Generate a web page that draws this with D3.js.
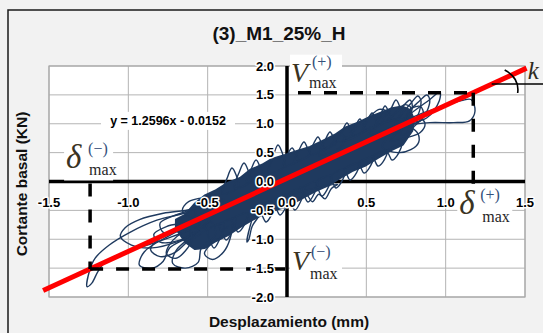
<!DOCTYPE html>
<html><head><meta charset="utf-8">
<script src="https://cdn.jsdelivr.net/npm/d3@7"></script>
<style>
body{margin:0;background:#f2f2f2;}
svg{display:block;}
</style></head><body>
<svg id="c" width="543" height="333"></svg>
<script>
// ---------- data ----------
const title = "(3)_M1_25%_H";
const xLabel = "Desplazamiento (mm)";
const yLabel = "Cortante basal (KN)";
const equation = "y = 1.2596x - 0.0152";
const xTicks = [-1.5, -1.0, -0.5, 0.0, 0.5, 1.0, 1.5];
const yTicks = [-2.0, -1.5, -1.0, -0.5, 0.0, 0.5, 1.0, 1.5, 2.0];
const trendX = [-1.537, 1.51];
const trendY = [-1.889, 1.963];
const deltaMax = [-1.241, 1.174];   // δmax(-), δmax(+)
const vMax = [-1.515, 1.538];       // Vmax(-), Vmax(+)
const kMarkY = 1.688;
const kMarkX = [1.29, 1.62];

// dense core of the hysteresis cloud (outline)
const coreX = [-0.70,-0.643,-0.580,-0.517,-0.454,-0.372,-0.296,-0.233,-0.158,-0.095,-0.013,0.063,0.145,0.221,0.302,0.365,0.447,0.523,0.599,0.662,0.725,0.775,
               0.80,0.79,0.731,0.649,0.573,0.491,0.410,0.334,0.258,0.176,0.095,0.019,-0.057,-0.139,-0.221,-0.296,-0.372,-0.447,-0.517,-0.580,-0.64,-0.70];
const coreY = [-0.66,-0.58,-0.38,-0.24,-0.16,-0.02,0.06,0.20,0.29,0.39,0.46,0.53,0.60,0.70,0.81,0.93,1.02,1.12,1.20,1.27,1.30,1.24,
               1.08,0.88,0.64,0.53,0.41,0.27,0.18,0.06,-0.07,-0.17,-0.29,-0.41,-0.48,-0.55,-0.67,-0.79,-0.93,-1.03,-1.15,-1.17,-1.05,-0.82];

// hysteresis loops outside the dense core
const loopsLowerLeft = [
  [[-0.45,-0.35],[-0.65,-0.55],[-0.82,-0.67],[-0.99,-0.88],[-1.12,-1.10],[-1.21,-1.33],[-1.245,-1.55],[-1.26,-1.82],[-1.23,-1.76],[-1.19,-1.55],[-1.14,-1.38],[-1.02,-1.22],[-0.88,-1.10],[-0.72,-0.95],[-0.55,-0.75]],
  [[-0.40,-0.30],[-0.60,-0.48],[-0.78,-0.55],[-0.93,-0.66],[-1.02,-0.80],[-1.05,-0.95],[-0.98,-1.10],[-0.85,-1.15],[-0.70,-1.05],[-0.55,-0.85]],
  [[-0.50,-0.60],[-0.66,-0.80],[-0.80,-0.98],[-0.86,-1.18],[-0.80,-1.30],[-0.70,-1.22],[-0.63,-1.05],[-0.52,-0.85]],
  [[-0.48,-0.70],[-0.60,-0.95],[-0.70,-1.20],[-0.72,-1.42],[-0.64,-1.50],[-0.56,-1.40],[-0.54,-1.15],[-0.45,-0.92]],
  [[-0.55,-0.70],[-0.75,-0.95],[-0.90,-1.22],[-0.93,-1.45],[-0.85,-1.50],[-0.78,-1.38],[-0.74,-1.15],[-0.62,-0.95]],
  [[-0.45,-0.55],[-0.62,-0.70],[-0.76,-0.78],[-0.84,-0.92],[-0.80,-1.05],[-0.68,-1.02],[-0.58,-0.88]],
  [[-0.35,-0.75],[-0.45,-1.00],[-0.52,-1.25],[-0.47,-1.35],[-0.40,-1.22],[-0.36,-1.00]],
  [[-0.58,-0.50],[-0.70,-0.58],[-0.80,-0.72],[-0.78,-0.88],[-0.68,-0.85],[-0.60,-0.70]],
  [[-0.62,-0.85],[-0.72,-1.02],[-0.76,-1.25],[-0.70,-1.33],[-0.64,-1.20],[-0.60,-1.00]],
  [[-0.50,-0.30],[-0.62,-0.35],[-0.66,-0.50],[-0.60,-0.62],[-0.52,-0.50]]
];
const loopsUpper = [
  [[-0.407,-0.21],[-0.377,0.06],[-0.347,0.234],[-0.322,0.12],[-0.307,-0.09]],
  [[-0.331,-0.117],[-0.30,0.17],[-0.271,0.320],[-0.246,0.20],[-0.231,0.006]],
  [[-0.255,-0.024],[-0.225,0.22],[-0.195,0.372],[-0.17,0.25],[-0.155,0.099]],
  [[-0.117,0.146],[-0.087,0.44],[-0.057,0.632],[-0.032,0.51],[-0.017,0.269]],
  [[-0.028,0.256],[0.0,0.45],[0.032,0.580],[0.057,0.46],[0.072,0.378]],
  [[0.047,0.348],[0.077,0.55],[0.107,0.684],[0.132,0.56],[0.147,0.471]],
  [[0.135,0.456],[0.165,0.64],[0.195,0.771],[0.22,0.65],[0.235,0.579]],
  [[0.211,0.55],[0.241,0.72],[0.271,0.857],[0.296,0.74],[0.311,0.672]],
  [[0.318,0.681],[0.348,0.87],[0.378,1.013],[0.403,0.89],[0.418,0.804]],
  [[0.40,0.782],[0.43,0.95],[0.460,1.082],[0.485,0.96],[0.50,0.905]],
  [[0.476,0.876],[0.506,1.05],[0.536,1.186],[0.561,1.07],[0.576,1.0]],
  [[0.558,0.976],[0.59,1.16],[0.618,1.307],[0.643,1.19],[0.658,1.099]],
  [[0.60,1.03],[0.655,1.26],[0.687,1.411],[0.71,1.30],[0.72,1.15]],
  [[0.66,1.10],[0.73,1.30],[0.775,1.411],[0.79,1.30],[0.76,1.10]],
  [[0.68,1.00],[0.78,1.35],[0.825,1.481],[0.845,1.38],[0.80,1.05]],
  [[0.70,1.00],[0.83,1.38],[0.882,1.498],[0.90,1.40],[0.84,1.05]],
  [[0.72,1.02],[0.90,1.42],[0.964,1.550],[0.96,1.40],[0.88,1.10]],
  [[0.60,0.85],[0.75,0.97],[0.90,1.02],[1.05,1.02],[1.15,1.05],[1.185,1.22],[1.16,1.42],[1.10,1.40],[0.98,1.30],[0.85,1.18],[0.70,1.00]],
  [[0.60,0.60],[0.70,0.50],[0.78,0.55],[0.83,0.68],[0.82,0.85],[0.76,0.95],[0.68,0.85]],
  [[0.65,0.70],[0.74,0.75],[0.84,0.85],[0.87,1.00],[0.84,1.10],[0.77,1.00]],
  [[0.35,0.70],[0.45,0.95],[0.52,1.12],[0.58,1.25],[0.62,1.22],[0.57,1.05],[0.48,0.85]],
  [[0.50,0.80],[0.60,1.00],[0.70,1.22],[0.74,1.33],[0.78,1.28],[0.74,1.10],[0.65,0.92]],
  [[0.20,0.45],[0.30,0.70],[0.33,0.82],[0.36,0.78],[0.34,0.60]],
  [[0.72,0.80],[0.80,0.95],[0.86,1.15],[0.84,1.30],[0.78,1.25],[0.74,1.05]]
];
const loopsLower = [
  [[0.622,0.505],[0.637,0.49],[0.662,0.372],[0.692,0.44],[0.722,0.65]],
  [[0.533,0.42],[0.548,0.39],[0.573,0.268],[0.603,0.33],[0.633,0.54]],
  [[0.445,0.31],[0.46,0.27],[0.485,0.147],[0.515,0.22],[0.545,0.43]],
  [[0.357,0.2],[0.372,0.15],[0.397,0.026],[0.427,0.10],[0.457,0.32]],
  [[0.269,0.09],[0.284,0.01],[0.309,-0.113],[0.339,-0.03],[0.369,0.21]],
  [[0.181,-0.02],[0.196,-0.13],[0.221,-0.251],[0.251,-0.15],[0.281,0.10]],
  [[0.092,-0.13],[0.107,-0.235],[0.132,-0.355],[0.162,-0.26],[0.192,0.0]],
  [[0.01,-0.23],[0.025,-0.37],[0.050,-0.494],[0.08,-0.38],[0.11,-0.10]],
  [[-0.084,-0.34],[-0.069,-0.46],[-0.044,-0.580],[-0.014,-0.48],[0.016,-0.22]],
  [[-0.172,-0.45],[-0.157,-0.58],[-0.132,-0.701],[-0.102,-0.60],[-0.072,-0.33]],
  [[-0.20,-0.55],[-0.235,-0.80],[-0.252,-1.048],[-0.24,-1.00],[-0.22,-0.78],[-0.17,-0.55]],
  [[-0.349,-0.67],[-0.334,-0.75],[-0.309,-0.874],[-0.279,-0.80],[-0.249,-0.55]],
  [[-0.424,-0.76],[-0.409,-0.89],[-0.384,-1.013],[-0.354,-0.91],[-0.324,-0.64]],
  [[-0.50,-0.85],[-0.485,-1.03],[-0.460,-1.152],[-0.43,-1.03],[-0.40,-0.73]],
  [[0.02,-0.25],[0.08,-0.32],[0.12,-0.22],[0.16,-0.35],[0.20,-0.22],[0.24,-0.30],[0.28,-0.12],[0.32,-0.05]]
];

// ---------- drawing ----------
const svg = d3.select("#c");
const W = 543, H = 333;
const plot = {l: 49, r: 525, t: 66, b: 297};
const x = d3.scaleLinear().domain([-1.5, 1.5]).range([plot.l, plot.r]);
const y = d3.scaleLinear().domain([-2, 2]).range([plot.b, plot.t]);
const blue = "#1f3a5f";
const sans = "'Liberation Sans', Arial, sans-serif";
const serif = "'Liberation Serif', 'Times New Roman', serif";

svg.append("rect").attr("width", W).attr("height", H).attr("fill", "#f2f2f2");
svg.append("rect").attr("x", 8).attr("y", 10).attr("width", 700).attr("height", 500)
  .attr("fill", "none").attr("stroke", "#1a1a1a").attr("stroke-width", 1.5);

svg.append("rect").attr("x", plot.l).attr("y", plot.t).attr("width", plot.r - plot.l).attr("height", plot.b - plot.t)
  .attr("fill", "#ffffff");

// gridlines
const grid = svg.append("g").attr("stroke", "#b4b4b4").attr("stroke-width", 1);
grid.selectAll("line.v").data(xTicks).join("line").attr("class","v")
  .attr("x1", d => x(d)).attr("x2", d => x(d)).attr("y1", plot.t).attr("y2", plot.b);
grid.selectAll("line.h").data(yTicks).join("line").attr("class","h")
  .attr("x1", plot.l).attr("x2", plot.r).attr("y1", d => y(d)).attr("y2", d => y(d));
svg.append("rect").attr("x", plot.l).attr("y", plot.t).attr("width", plot.r - plot.l).attr("height", plot.b - plot.t)
  .attr("fill", "none").attr("stroke", "#a8a8a8").attr("stroke-width", 1.2);

// axes lines (thick)
svg.append("line").attr("x1", plot.l).attr("x2", plot.r).attr("y1", y(0)).attr("y2", y(0))
  .attr("stroke", "#000").attr("stroke-width", 3.5);
svg.append("line").attr("x1", x(0)).attr("x2", x(0)).attr("y1", plot.t).attr("y2", plot.b)
  .attr("stroke", "#000").attr("stroke-width", 3.5);

// core
const corePts = coreX.map((d, i) => [x(d), y(coreY[i])]);
svg.append("path").attr("d", d3.line().curve(d3.curveLinearClosed)(corePts))
  .attr("fill", blue).attr("stroke", blue).attr("stroke-width", 2).attr("stroke-linejoin", "round");

// loops
const loopLine = d3.line().x(d => x(d[0])).y(d => y(d[1])).curve(d3.curveCatmullRomClosed.alpha(0.5));
svg.append("g").selectAll("path").data([...loopsLowerLeft, ...loopsUpper, ...loopsLower]).join("path")
  .attr("d", d => loopLine(d)).attr("fill", "none").attr("stroke", blue).attr("stroke-width", 1.4);

// red trend line
svg.append("line").attr("x1", x(trendX[0])).attr("y1", y(trendY[0])).attr("x2", x(trendX[1])).attr("y2", y(trendY[1]))
  .attr("stroke", "#ff0000").attr("stroke-width", 5);

// dashed lines
const dash = svg.append("g").attr("stroke", "#000").attr("stroke-width", 3.5).attr("stroke-dasharray", "13,13");
dash.append("line").attr("x1", x(0) + 11).attr("x2", x(deltaMax[1])).attr("y1", y(vMax[1])).attr("y2", y(vMax[1]));
dash.append("line").attr("x1", x(deltaMax[1])).attr("x2", x(deltaMax[1])).attr("y1", y(vMax[1])).attr("y2", y(0) + 4);
dash.append("line").attr("x1", x(deltaMax[0])).attr("x2", x(deltaMax[0])).attr("y1", y(0) + 2).attr("y2", y(vMax[0]));
dash.append("line").attr("x1", x(deltaMax[0])).attr("x2", x(0)).attr("y1", y(vMax[0])).attr("y2", y(vMax[0]));

// k angle mark
const kx0 = x(kMarkX[0]), ky = y(kMarkY);
svg.append("line").attr("x1", kx0).attr("x2", x(kMarkX[1])).attr("y1", ky).attr("y2", ky)
  .attr("stroke", "#000").attr("stroke-width", 1.6);
svg.append("path").attr("d", `M${kx0+13},${ky-14} Q${kx0+28},${ky-6} ${kx0+26},${ky+9}`)
  .attr("fill", "none").attr("stroke", "#000").attr("stroke-width", 1.6);
svg.append("text").attr("x", kx0 + 36).attr("y", ky - 5).text("k")
  .attr("font-family", serif).attr("font-style", "italic").attr("font-size", 25).attr("fill", "#2e2a1e");

// tick labels
const tl = svg.append("g").attr("font-family", sans).attr("font-weight", "bold").attr("font-size", 13)
  .attr("fill", "#000").attr("stroke", "#fff").attr("stroke-width", 3).attr("paint-order", "stroke")
  .attr("stroke-linejoin", "round");
tl.selectAll("text.x").data(xTicks).join("text").attr("class", "x")
  .attr("x", d => x(d)).attr("y", y(0) + 25).attr("text-anchor", "middle").text(d => d.toFixed(1));
tl.selectAll("text.y").data(yTicks).join("text").attr("class", "y")
  .attr("x", x(0) - 13).attr("y", d => y(d) + 4.5).attr("text-anchor", "end").text(d => d.toFixed(1));

// equation label
const eqx = x(-0.75), eqy = y(1.05);
svg.append("rect").attr("x", eqx - 67).attr("y", eqy - 9).attr("width", 134).attr("height", 18).attr("fill", "#fff");
svg.append("text").attr("x", eqx).attr("y", eqy + 4.5).attr("text-anchor", "middle")
  .attr("font-family", sans).attr("font-weight", "bold").attr("font-size", 12.5).text(equation);

// annotation labels V and δ
function annot(ax, ay, sym, sign, o) {
  const g = svg.append("g");
  g.append("rect").attr("x", ax + o.bx).attr("y", ay + o.by).attr("width", o.bw).attr("height", o.bh).attr("fill", "#fff");
  g.append("text").attr("x", ax + o.sx).attr("y", ay + o.sy).text(sym).attr("font-family", serif)
    .attr("font-style", "italic").attr("font-size", o.fs).attr("fill", "#3a3322");
  g.append("text").attr("x", ax + o.px).attr("y", ay + o.py).text("(" + sign + ")").attr("font-family", serif)
    .attr("font-size", 16).attr("fill", "#34507a");
  g.append("text").attr("x", ax + o.mx).attr("y", ay + o.my).text("max").attr("font-family", serif)
    .attr("font-size", 16).attr("fill", "#262626");
}
annot(x(0), y(vMax[1]), "V", "+", {fs:28, bx:3, by:-38, bw:52, bh:33, sx:4, sy:-11, px:25, py:-26, mx:22, my:-5});
annot(x(0), y(vMax[0]), "V", "\u2212", {fs:28, bx:3, by:-26, bw:52, bh:41, sx:5, sy:1, px:24, py:-12, mx:23, my:10});
annot(x(deltaMax[0]), y(0), "\u03B4", "\u2212", {fs:33, bx:-26, by:-41, bw:49, bh:40, sx:-24, sy:-14, px:-2, py:-28, mx:-1, my:-7});
annot(x(deltaMax[1]), y(0), "\u03B4", "+", {fs:33, bx:-16, by:7, bw:55, bh:38, sx:-14, sy:32, px:7, py:18, mx:9, my:40});

// titles
svg.append("text").attr("x", 279).attr("y", 40).attr("text-anchor", "middle")
  .attr("font-family", sans).attr("font-weight", "bold").attr("font-size", 19).attr("fill", "#111").text(title);
svg.append("text").attr("x", 289).attr("y", 327).attr("text-anchor", "middle")
  .attr("font-family", sans).attr("font-weight", "bold").attr("font-size", 15.5).attr("fill", "#111").text(xLabel);
svg.append("text").attr("transform", "translate(27,184) rotate(-90)").attr("text-anchor", "middle")
  .attr("font-family", sans).attr("font-weight", "bold").attr("font-size", 15.5).attr("fill", "#111").text(yLabel);
</script>
</body></html>
